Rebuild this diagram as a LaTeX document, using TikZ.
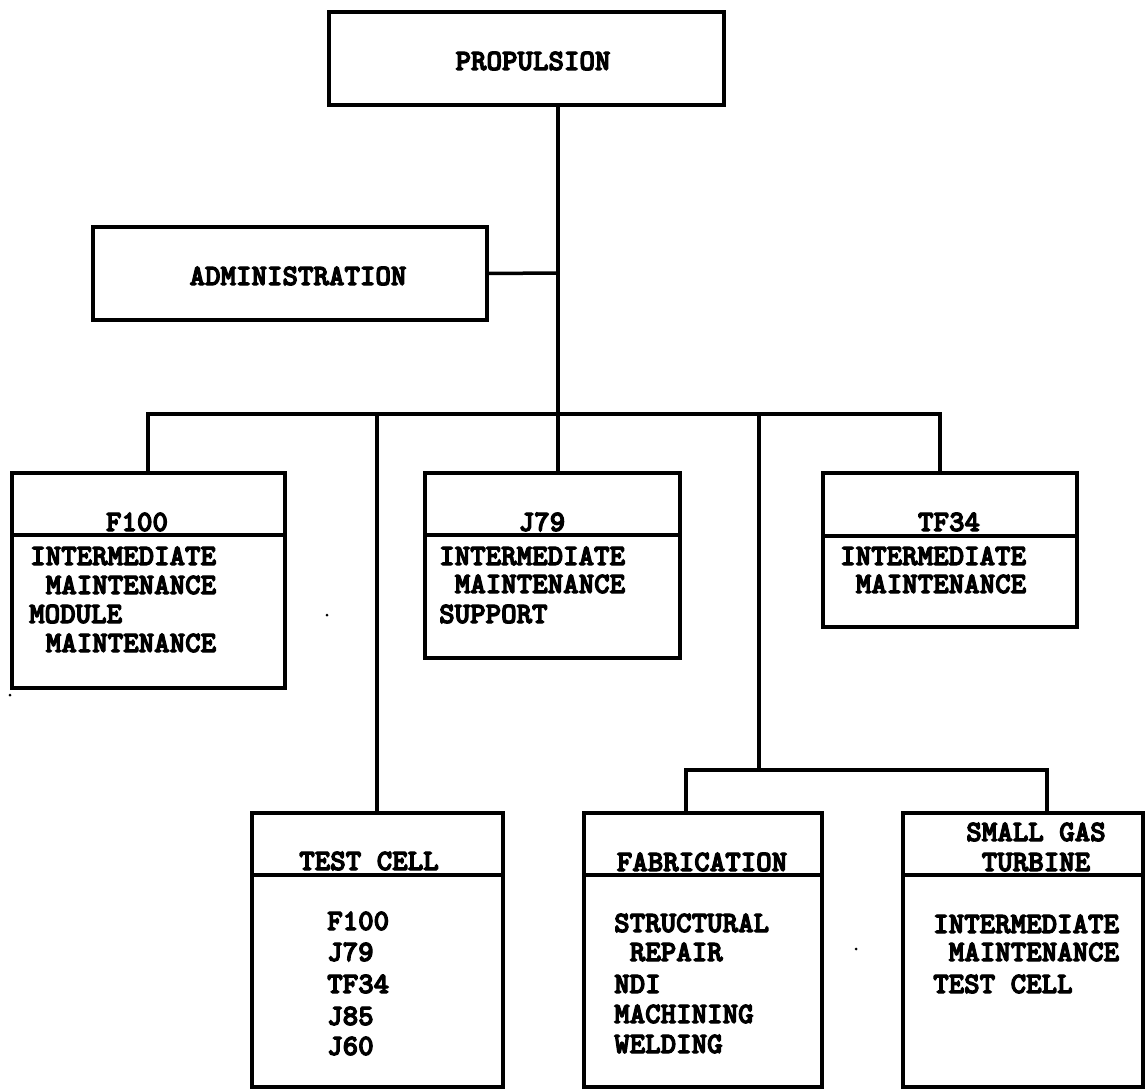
\documentclass[tikz,border=0pt]{standalone}
\usepackage{fontspec}
\newfontfamily\tw{lmmonolt10-bold.otf}[FakeBold=4]
\begin{document}
\begin{tikzpicture}[x=1pt,y=-1pt,
  box/.style={draw, line width=3.5pt, inner sep=0pt, outer sep=0pt, anchor=north west},
  wire/.style={line width=3.5pt, line join=miter},
  txt/.style={font={\tw\fontsize{29.5}{32}\selectfont}, inner sep=0pt, anchor=base west},
  hdr/.style={txt, anchor=base}]
\useasboundingbox (0,0) rectangle (1147,1089);

% boxes
\node[box, minimum width=395pt, minimum height=93pt] (prop) at (329,12) {};
\node[box, minimum width=394pt, minimum height=93pt] (admin) at (93,227) {};
\node[box, minimum width=273pt, minimum height=215pt] (f100) at (12,473) {};
\node[box, minimum width=255pt, minimum height=185pt] (j79) at (425,473) {};
\node[box, minimum width=254pt, minimum height=154pt] (tf34) at (823,473) {};
\node[box, minimum width=251pt, minimum height=274pt] (tc) at (252,813) {};
\node[box, minimum width=238pt, minimum height=274pt] (fab) at (584,813) {};
\node[box, minimum width=240pt, minimum height=274pt] (sgt) at (903,813) {};

% header dividers
\draw[wire] (f100.west |- 0,535) -- (f100.east |- 0,535);
\draw[wire] (j79.west |- 0,535) -- (j79.east |- 0,535);
\draw[wire] (tf34.west |- 0,536) -- (tf34.east |- 0,536);
\draw[wire] (tc.west |- 0,875) -- (tc.east |- 0,875);
\draw[wire] (fab.west |- 0,875) -- (fab.east |- 0,875);
\draw[wire] (sgt.west |- 0,875) -- (sgt.east |- 0,875);

% junctions
\coordinate (jA) at (558,273);
\coordinate (busL) at (148,414);
\coordinate (busR) at (940,414);
\coordinate (busTC) at (377,414);
\coordinate (busFab) at (759,414);
\coordinate (subL) at (686,770);
\coordinate (subR) at (1047,770);
\coordinate (subM) at (759,770);

% connectors
\draw[wire] (prop.south -| jA) -- (j79.north -| jA);
\draw[wire] (admin.east) -- (jA);
\draw[wire] (f100.north -| busL) -- (busL) -- (busR) -- (tf34.north -| busR);
\draw[wire] (busTC) -- (tc.north -| busTC);
\draw[wire] (busFab) -- (subM);
\draw[wire] (fab.north -| subL) -- (subL) -- (subR) -- (sgt.north -| subR);

% texts
\node[hdr] (tprop) at (533,70) {PROPULSION};
\node[hdr] (tadmin) at (298,285) {ADMINISTRATION};

\node[hdr] (tf100h) at (137,531) {F100};
\node[txt] (tf1) at (30,565) {INTERMEDIATE};
\node[txt] (tf2) at (45.6,594) {MAINTENANCE};
\node[txt] (tf3) at (29,623) {MODULE};
\node[txt] (tf4) at (45.6,652) {MAINTENANCE};

\node[hdr] (tj79h) at (542,531) {J79};
\node[txt] (tj1) at (439,565) {INTERMEDIATE};
\node[txt] (tj2) at (454.6,593) {MAINTENANCE};
\node[txt] (tj3) at (439,623) {SUPPORT};

\node[hdr] (ttfh) at (949,531) {TF34};
\node[txt] (tt1) at (840,565) {INTERMEDIATE};
\node[txt] (tt2) at (855.6,593) {MAINTENANCE};

\node[hdr] (ttch) at (369,870) {TEST CELL};
\node[txt] (tc1) at (327,930) {F100};
\node[txt] (tc2) at (327,961) {J79};
\node[txt] (tc3) at (327,993) {TF34};
\node[txt] (tc4) at (327,1025) {J85};
\node[txt] (tc5) at (327,1055) {J60};

\node[hdr] (tfabh) at (702,871) {FABRICATION};
\node[txt] (fb1) at (614,932) {STRUCTURAL};
\node[txt] (fb2) at (629.6,961) {REPAIR};
\node[txt] (fb3) at (614,993) {NDI};
\node[txt] (fb4) at (614,1023) {MACHINING};
\node[txt] (fb5) at (614,1053) {WELDING};

\node[hdr] (tsg1) at (1036,841) {SMALL GAS};
\node[hdr] (tsg2) at (1036,871) {TURBINE};
\node[txt] (sg1) at (933,933) {INTERMEDIATE};
\node[txt] (sg2) at (948.6,961) {MAINTENANCE};
\node[txt] (sg3) at (933,993) {TEST CELL};

% specks
\fill (10,695) circle[radius=1.5pt];
\fill (327,615) circle[radius=1.5pt];
\fill (856,949) circle[radius=1.5pt];
\end{tikzpicture}
\end{document}
